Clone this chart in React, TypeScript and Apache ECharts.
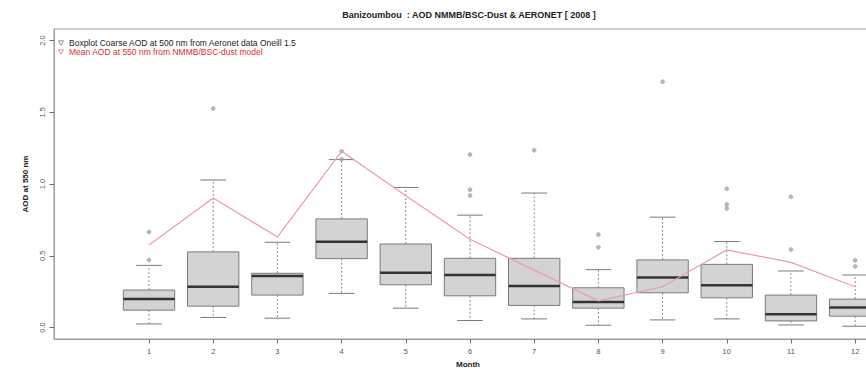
import React, { useEffect, useRef } from "react";
import * as echarts from "echarts";

// Monthly AOD statistics, Banizoumbou 2008
const months = [1, 2, 3, 4, 5, 6, 7, 8, 9, 10, 11, 12];
const whiskerLow = [0.025, 0.07, 0.065, 0.238, 0.135, 0.049, 0.06, 0.016, 0.053, 0.06, 0.018, 0.009];
const q1 = [0.121, 0.149, 0.226, 0.48, 0.298, 0.221, 0.154, 0.135, 0.242, 0.207, 0.046, 0.079];
const median = [0.198, 0.284, 0.359, 0.597, 0.382, 0.366, 0.289, 0.177, 0.349, 0.294, 0.093, 0.14];
const q3 = [0.261, 0.527, 0.378, 0.757, 0.582, 0.482, 0.482, 0.277, 0.471, 0.44, 0.226, 0.198];
const whiskerHigh = [0.433, 1.028, 0.594, 1.17, 0.976, 0.783, 0.937, 0.403, 0.769, 0.599, 0.394, 0.366];
const outlierMonth = [1, 1, 2, 4, 4, 6, 6, 6, 7, 8, 8, 9, 10, 10, 10, 11, 11, 12, 12];
const outlierValue = [0.47, 0.666, 1.526, 1.228, 1.172, 1.205, 0.96, 0.92, 1.235, 0.648, 0.559, 1.713, 0.967, 0.858, 0.83, 0.911, 0.543, 0.468, 0.426];
// Mean AOD at 550 nm from NMMB/BSC-dust model
const meanModel = [0.575, 0.902, 0.631, 1.228, 0.918, 0.615, 0.4, 0.186, 0.284, 0.541, 0.454, 0.284];
const yTicks = [0, 0.5, 1, 1.5, 2];

const TITLE = "Banizoumbou  : AOD NMMB/BSC-Dust & AERONET [ 2008 ]";
const LEGEND_BOX = "Boxplot Coarse AOD at 500 nm from Aeronet data Oneill 1.5";
const LEGEND_MEAN = "Mean AOD at 550 nm from NMMB/BSC-dust model";
const FONT = "'Liberation Sans', Arial, Helvetica, sans-serif";

export default function App() {
  const ref = useRef<HTMLDivElement>(null);

  useEffect(() => {
    if (!ref.current) return;
    const chart = echarts.init(ref.current, null, { renderer: "svg" });
    const boxData = months.map((m, i) => [m, whiskerLow[i], q1[i], median[i], q3[i], whiskerHigh[i]]);
    const outliers = outlierMonth.map((m, i) => [m, outlierValue[i]]);
    const means = months.map((m, i) => [m, meanModel[i]]);

    chart.setOption({
      animation: false,
      backgroundColor: "#ffffff",
      textStyle: { fontFamily: FONT },
      grid: {
        left: 54,
        width: 814,
        top: 29,
        bottom: 31,
        show: true,
        borderColor: "#9c9c9c",
        borderWidth: 1,
        outerBoundsMode: "none",
      },
      xAxis: {
        type: "value",
        min: -0.48,
        max: 12.2,
        splitLine: { show: false },
        axisLine: { show: true, onZero: false, lineStyle: { color: "#9c9c9c" } },
        axisTick: { show: true, customValues: months, length: 4.5, lineStyle: { color: "#6e6e6e", width: 1 } },
        axisLabel: { customValues: months, color: "#555", fontSize: 7.5, margin: 8 },
      },
      yAxis: {
        type: "value",
        min: -0.08,
        max: 2.08,
        splitLine: { show: false },
        axisLine: { show: true, onZero: false, lineStyle: { color: "#9c9c9c" } },
        axisTick: { show: true, customValues: yTicks, length: 4.5, lineStyle: { color: "#6e6e6e", width: 1 } },
        axisLabel: {
          customValues: yTicks,
          rotate: 90,
          color: "#555",
          fontSize: 7.5,
          margin: 8,
          formatter: (v: number) => v.toFixed(1),
        },
        name: "AOD at 550 nm",
        nameLocation: "middle",
        nameGap: 25,
        nameTextStyle: { color: "#222", fontSize: 8, fontWeight: "bold" },
      },
      series: [
        {
          type: "custom",
          data: boxData,
          encode: { x: 0, y: [1, 2, 3, 4, 5] },
          z: 2,
          renderItem: (_params: any, api: any) => {
            const m = api.value(0);
            const y = (k: number) => api.coord([m, api.value(k)])[1];
            const cx = api.coord([m, 0])[0];
            const half = api.size([0.4, 0])[0];
            const cap = api.size([0.2, 0])[0];
            const yLow = y(1), yQ1 = y(2), yMed = y(3), yQ3 = y(4), yHigh = y(5);
            const whisker = { stroke: "#8a8a8a", lineWidth: 1, lineDash: [2, 2] };
            const solid = { stroke: "#7a7a7a", lineWidth: 1 };
            return {
              type: "group",
              children: [
                { type: "line", shape: { x1: cx, y1: yQ1, x2: cx, y2: yLow }, style: whisker },
                { type: "line", shape: { x1: cx, y1: yQ3, x2: cx, y2: yHigh }, style: whisker },
                { type: "line", shape: { x1: cx - cap, y1: yLow, x2: cx + cap, y2: yLow }, style: solid },
                { type: "line", shape: { x1: cx - cap, y1: yHigh, x2: cx + cap, y2: yHigh }, style: solid },
                {
                  type: "rect",
                  shape: { x: cx - half, y: yQ3, width: half * 2, height: yQ1 - yQ3 },
                  style: { fill: "#d3d3d3", stroke: "#7a7a7a", lineWidth: 1 },
                },
                {
                  type: "line",
                  shape: { x1: cx - half, y1: yMed, x2: cx + half, y2: yMed },
                  style: { stroke: "#333333", lineWidth: 2.5 },
                },
              ],
            };
          },
        },
        {
          type: "scatter",
          data: outliers,
          symbol: "circle",
          symbolSize: 4,
          z: 3,
          itemStyle: { color: "#a8a8a8", borderColor: "#8f8f8f", borderWidth: 0.5 },
        },
        {
          type: "line",
          data: means,
          symbol: "none",
          z: 4,
          lineStyle: { color: "#e6a0aa", width: 1.25 },
        },
      ],
      graphic: [
        {
          type: "text",
          x: 469,
          y: 15,
          style: {
            text: TITLE,
            fill: "#222",
            font: `bold 9px ${FONT}`,
            textAlign: "center",
            textVerticalAlign: "middle",
          },
        },
        {
          type: "text",
          x: 468,
          y: 364,
          style: {
            text: "Month",
            fill: "#222",
            font: `bold 8px ${FONT}`,
            textAlign: "center",
            textVerticalAlign: "middle",
          },
        },
        {
          type: "polygon",
          shape: { points: [[58.5, 40.8], [63.5, 40.8], [61, 45.2]] },
          style: { fill: "none", stroke: "#777", lineWidth: 0.8 },
        },
        {
          type: "text",
          x: 69,
          y: 43,
          style: { text: LEGEND_BOX, fill: "#222", font: `8.5px ${FONT}`, textVerticalAlign: "middle" },
        },
        {
          type: "polygon",
          shape: { points: [[58.5, 49.8], [63.5, 49.8], [61, 54.2]] },
          style: { fill: "none", stroke: "#e8707c", lineWidth: 0.8 },
        },
        {
          type: "text",
          x: 69,
          y: 52,
          style: { text: LEGEND_MEAN, fill: "#e22b2b", font: `8.5px ${FONT}`, textVerticalAlign: "middle" },
        },
      ],
    });

    return () => chart.dispose();
  }, []);

  return (
    <div
      ref={ref}
      style={{ position: "fixed", left: 0, top: 0, width: 866, height: 370, background: "#fff" }}
    />
  );
}
